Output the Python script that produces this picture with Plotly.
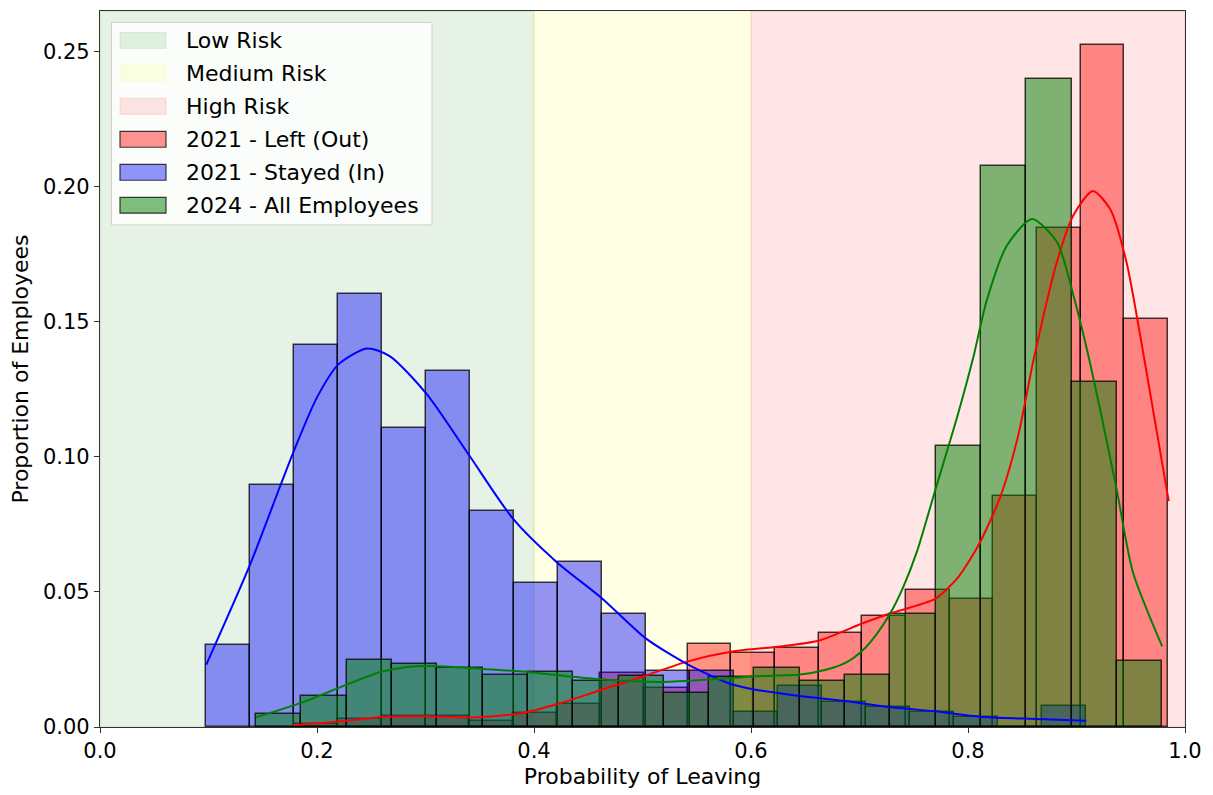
import numpy as np
import plotly.graph_objects as go

# ---------------- data ----------------
# histogram bin ranges (20 bins each)
red_range = (0.1794, 0.9843)
blue_range = (0.0977, 0.9088)
green_range = (0.1438, 0.9790)

red_probs = [0.0011, 0.0031, 0.0041, 0.0041, 0.0023, 0.0050, 0.0084, 0.0200, 0.0146, 0.0307,
             0.0273, 0.0294, 0.0347, 0.0410, 0.0507, 0.0475, 0.0854, 0.1848, 0.2523, 0.1510]
blue_probs = [0.0304, 0.0897, 0.1414, 0.1604, 0.1107, 0.1317, 0.0800, 0.0534, 0.0610, 0.0418,
              0.0209, 0.0206, 0.0056, 0.0151, 0.0093, 0.0074, 0.0056, 0.0036, 0.0000, 0.0076]
green_probs = [0.0048, 0.0115, 0.0248, 0.0233, 0.0219, 0.0194, 0.0204, 0.0170, 0.0190, 0.0127,
               0.0184, 0.0219, 0.0172, 0.0191, 0.0420, 0.1040, 0.2075, 0.2397, 0.1276, 0.0243]

# KDE curves
red_kde_x = [0.178, 0.221, 0.261, 0.301, 0.344, 0.387, 0.421, 0.461, 0.501, 0.542, 0.584, 0.627,
             0.662, 0.703, 0.728, 0.770, 0.791, 0.811, 0.830, 0.846, 0.861, 0.882, 0.897, 0.915,
             0.931, 0.946, 0.962, 0.985]
red_kde_y = [0.0007, 0.0020, 0.0038, 0.0040, 0.0035, 0.0050, 0.0084, 0.0136, 0.0188, 0.0243, 0.0280,
             0.0298, 0.0319, 0.0384, 0.0420, 0.0475, 0.0555, 0.0683, 0.0854, 0.1074, 0.1370, 0.1722,
             0.1893, 0.1984, 0.1917, 0.1722, 0.1373, 0.0836]

blue_kde_x = [0.098, 0.138, 0.166, 0.179, 0.200, 0.220, 0.246, 0.267, 0.301, 0.341, 0.381, 0.421,
              0.463, 0.503, 0.542, 0.582, 0.603, 0.645, 0.687, 0.728, 0.770, 0.811, 0.850, 0.909]
blue_kde_y = [0.0231, 0.0598, 0.0891, 0.1025, 0.1220, 0.1343, 0.1401, 0.1373, 0.1233, 0.1001,
              0.0769, 0.0610, 0.0475, 0.0328, 0.0231, 0.0158, 0.0139, 0.0115, 0.0096, 0.0074,
              0.0058, 0.0038, 0.0031, 0.0023]

green_kde_x = [0.144, 0.186, 0.228, 0.261, 0.292, 0.313, 0.353, 0.387, 0.430, 0.476, 0.519, 0.562,
               0.604, 0.645, 0.670, 0.687, 0.703, 0.716, 0.728, 0.740, 0.753, 0.770, 0.790, 0.805,
               0.817, 0.836, 0.859, 0.882, 0.897, 0.911, 0.937, 0.952, 0.979]
green_kde_y = [0.0036, 0.0090, 0.0158, 0.0206, 0.0225, 0.0225, 0.0215, 0.0206, 0.0188, 0.0172,
               0.0167, 0.0176, 0.0188, 0.0194, 0.0213, 0.0237, 0.0284, 0.0345, 0.0418, 0.0515,
               0.0650, 0.0879, 0.1147, 0.1370, 0.1575, 0.1783, 0.1880, 0.1795, 0.1600, 0.1373,
               0.0879, 0.0573, 0.0298]

zone_names = ["Low Risk", "Medium Risk", "High Risk"]
zone_bounds = [(0.0, 0.4), (0.4, 0.6), (0.6, 1.0)]
zone_colors = ["rgba(0,128,0,0.1)", "rgba(255,255,0,0.1)", "rgba(255,0,0,0.1)"]

series_names = ["2021 - Left (Out)", "2021 - Stayed (In)", "2024 - All Employees"]
series_fill = ["rgba(255,0,0,0.42)", "rgba(0,0,255,0.42)", "rgba(0,128,0,0.5)"]
series_line = ["red", "blue", "green"]

x_ticks = [0.0, 0.2, 0.4, 0.6, 0.8, 1.0]
y_ticks = [0.00, 0.05, 0.10, 0.15, 0.20, 0.25]

# ---------------- figure ----------------
W, H = 1213, 795
L, R, T, B = 100, 28, 10, 62
fig = go.Figure()

edge_col = "rgba(0,0,0,0.75)"


def add_hist(rng, probs, fill, name):
    edges = np.linspace(rng[0], rng[1], len(probs) + 1)
    centers = (edges[:-1] + edges[1:]) / 2
    widths = np.diff(edges)
    fig.add_trace(go.Bar(x=centers, y=probs, width=widths, name=name,
                         marker=dict(color=fill, line=dict(color=edge_col, width=1.5)),
                         showlegend=False))


add_hist(red_range, red_probs, series_fill[0], series_names[0])
add_hist(blue_range, blue_probs, series_fill[1], series_names[1])
add_hist(green_range, green_probs, series_fill[2], series_names[2])

for xs, ys, c in [(red_kde_x, red_kde_y, series_line[0]), (blue_kde_x, blue_kde_y, series_line[1]),
                  (green_kde_x, green_kde_y, series_line[2])]:
    fig.add_trace(go.Scatter(x=xs, y=ys, mode="lines", showlegend=False,
                             line=dict(color=c, width=2, shape="spline", smoothing=0.7)))

shapes = []
for (x0, x1), c in zip(zone_bounds, zone_colors):
    shapes.append(dict(type="rect", xref="x", yref="y domain", x0=x0, x1=x1, y0=0, y1=1,
                       fillcolor=c, line=dict(color=c, width=1.5), layer="below"))

# manual legend (matplotlib style)
pw, ph = W - L - R, H - T - B


def px_x(px):
    return (px - L) / pw


def px_y(py):
    return (H - B - py) / ph


shapes.append(dict(type="rect", xref="paper", yref="paper",
                   x0=px_x(111.5), x1=px_x(432), y0=px_y(226), y1=px_y(21.5),
                   fillcolor="rgba(255,255,255,0.8)", line=dict(color="#d0d0d0", width=1),
                   layer="above"))

leg_labels = zone_names + series_names
leg_fill = zone_colors + series_fill
leg_edge = zone_colors + [edge_col] * 3
annotations = []
for i, (lab, fc, ec) in enumerate(zip(leg_labels, leg_fill, leg_edge)):
    cy = 39.7 + 33.3 * i
    shapes.append(dict(type="rect", xref="paper", yref="paper",
                       x0=px_x(120), x1=px_x(166), y0=px_y(cy + 8), y1=px_y(cy - 8),
                       fillcolor=fc, line=dict(color=ec, width=1.2), layer="above"))
    annotations.append(dict(xref="paper", yref="paper", x=px_x(184), y=px_y(cy),
                            xanchor="left", yanchor="middle", text=lab, showarrow=False,
                            font=dict(size=22, color="black", family="DejaVu Sans")))

fig.update_layout(
    width=W, height=H,
    margin=dict(l=L, r=R, t=T, b=B, pad=0),
    paper_bgcolor="white", plot_bgcolor="white",
    barmode="overlay", bargap=0,
    font=dict(family="DejaVu Sans", size=22, color="black"),
    shapes=shapes, annotations=annotations,
    showlegend=False,
    xaxis=dict(range=[0, 1], tickvals=x_ticks, tickformat=".1f", ticks="outside", ticklen=5,
               tickwidth=1, tickcolor="#333", showline=True, linecolor="#333", linewidth=1.2,
               mirror=True, showgrid=False, zeroline=False, tickfont=dict(size=21),
               title=dict(text="Probability of Leaving", standoff=6, font=dict(size=22))),
    yaxis=dict(range=[0, 0.265], tickvals=y_ticks, tickformat=".2f", ticks="outside", ticklen=5,
               tickwidth=1, tickcolor="#333", showline=True, linecolor="#333", linewidth=1.2,
               mirror=True, showgrid=False, zeroline=False, tickfont=dict(size=21),
               title=dict(text="Proportion of Employees", standoff=8, font=dict(size=22))),
)

fig.write_html("out.html")
